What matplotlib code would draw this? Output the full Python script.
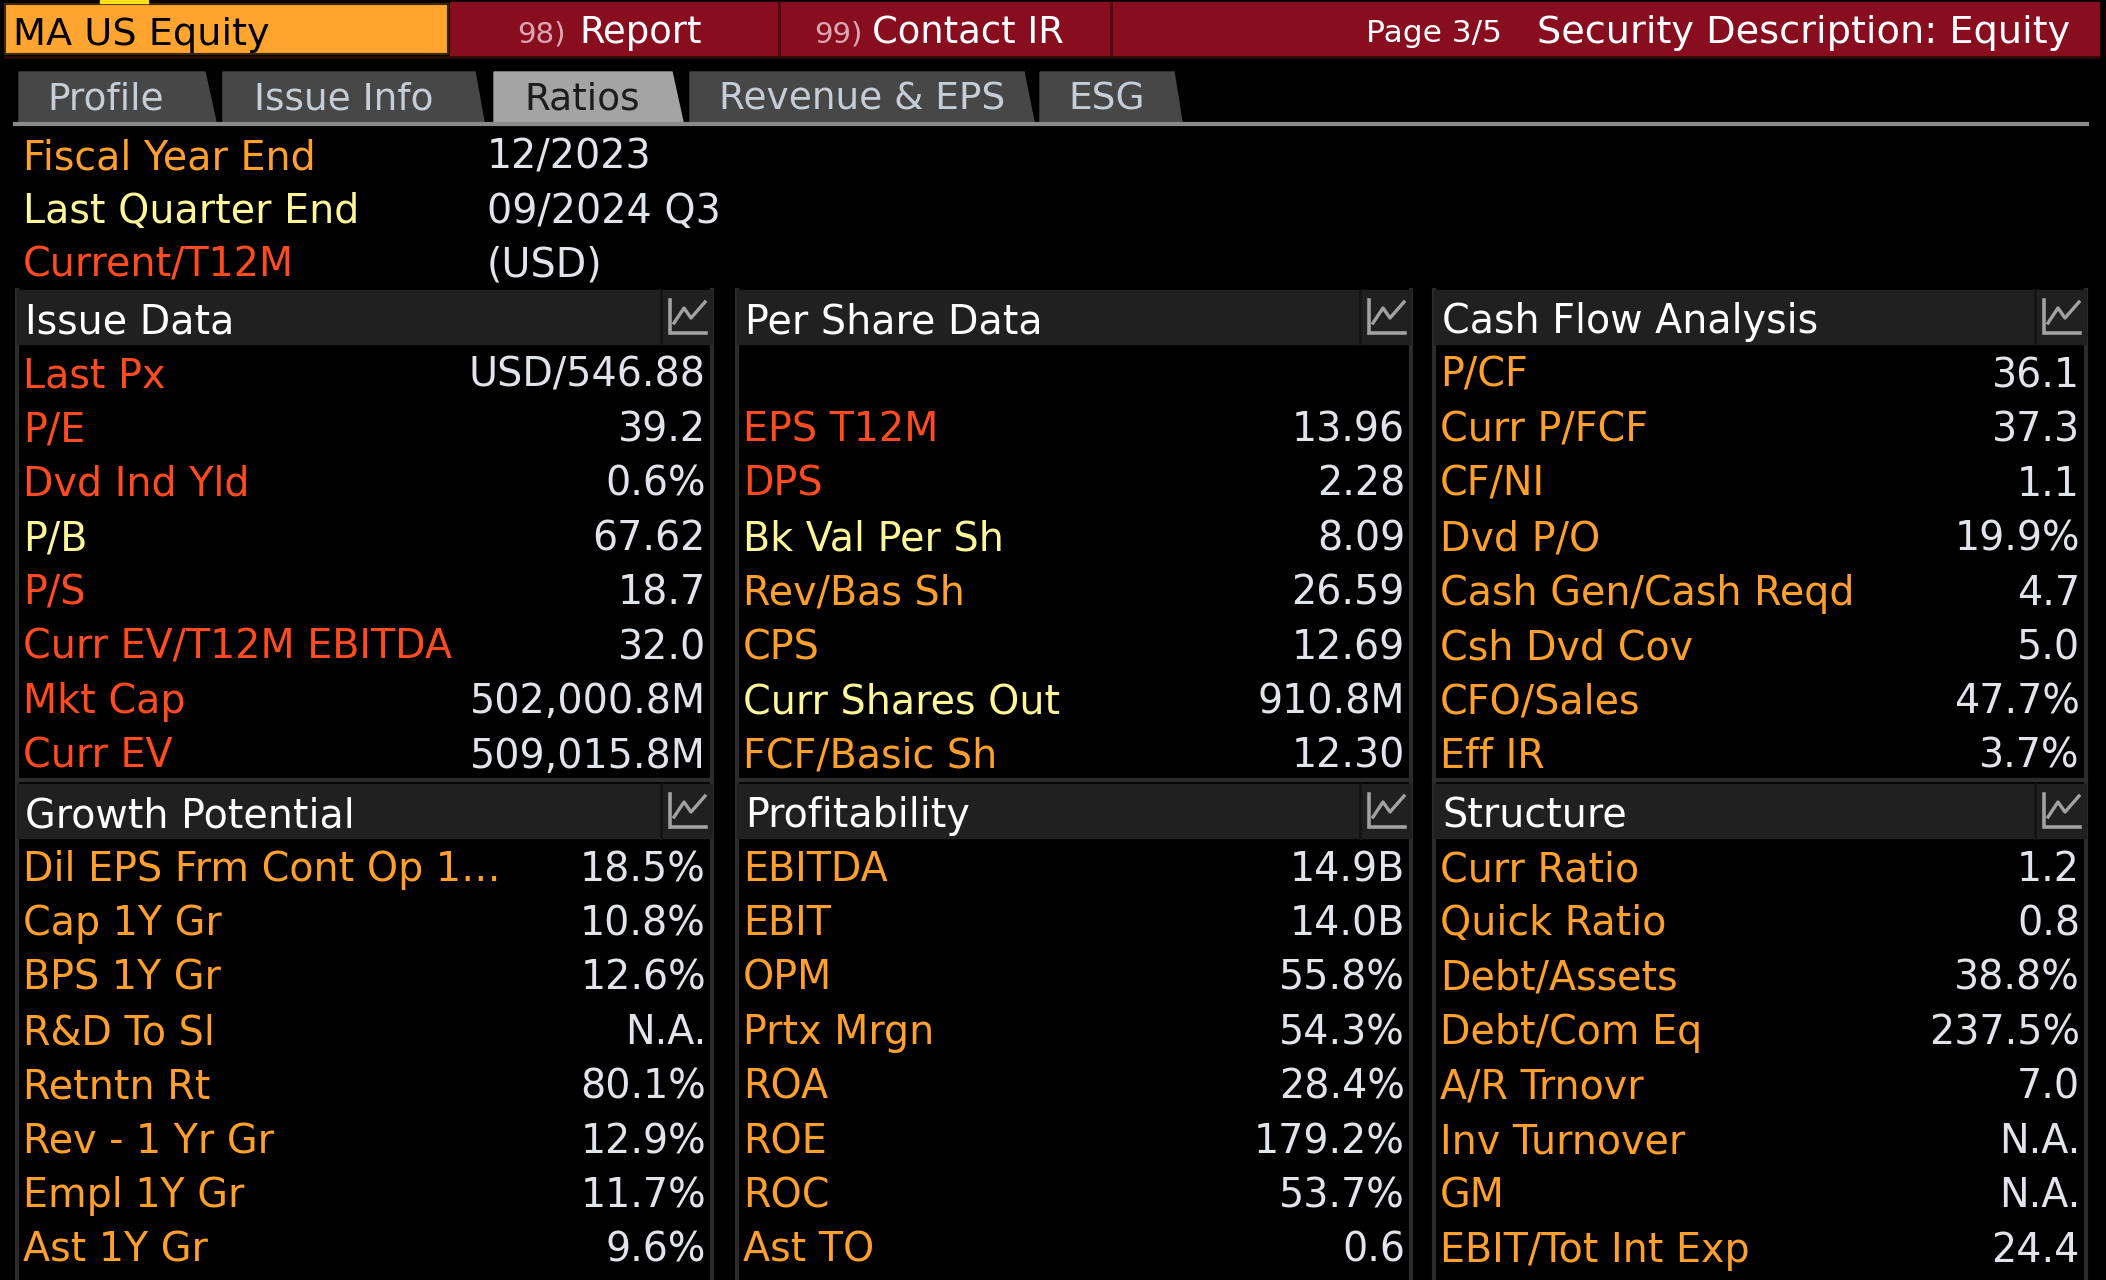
import matplotlib.pyplot as plt
from matplotlib.patches import Rectangle, Polygon

# ---- data ----
ticker = "MA US Equity"
menu_items = [("98)", "Report"), ("99)", "Contact IR")]
page_text = "Page 3/5"
title_text = "Security Description: Equity"
tabs = ["Profile", "Issue Info", "Ratios", "Revenue & EPS", "ESG"]
active_tab = "Ratios"

info_labels = ["Fiscal Year End", "Last Quarter End", "Current/T12M"]
info_values = ["12/2023", "09/2024 Q3", "(USD)"]
info_colors = ["o", "y", "r"]

issue_labels = ["Last Px", "P/E", "Dvd Ind Yld", "P/B", "P/S",
                "Curr EV/T12M EBITDA", "Mkt Cap", "Curr EV"]
issue_values = ["USD/546.88", "39.2", "0.6%", "67.62", "18.7",
                "32.0", "502,000.8M", "509,015.8M"]
issue_colors = ["r", "r", "r", "y", "r", "r", "r", "r"]

share_labels = ["", "EPS T12M", "DPS", "Bk Val Per Sh", "Rev/Bas Sh",
                "CPS", "Curr Shares Out", "FCF/Basic Sh"]
share_values = ["", "13.96", "2.28", "8.09", "26.59", "12.69", "910.8M", "12.30"]
share_colors = ["o", "r", "r", "y", "o", "o", "y", "o"]

cash_labels = ["P/CF", "Curr P/FCF", "CF/NI", "Dvd P/O", "Cash Gen/Cash Reqd",
               "Csh Dvd Cov", "CFO/Sales", "Eff IR"]
cash_values = ["36.1", "37.3", "1.1", "19.9%", "4.7", "5.0", "47.7%", "3.7%"]

growth_labels = ["Dil EPS Frm Cont Op 1\u2026", "Cap 1Y Gr", "BPS 1Y Gr", "R&D To Sl",
                 "Retntn Rt", "Rev - 1 Yr Gr", "Empl 1Y Gr", "Ast 1Y Gr"]
growth_values = ["18.5%", "10.8%", "12.6%", "N.A.", "80.1%", "12.9%", "11.7%", "9.6%"]

profit_labels = ["EBITDA", "EBIT", "OPM", "Prtx Mrgn", "ROA", "ROE", "ROC", "Ast TO"]
profit_values = ["14.9B", "14.0B", "55.8%", "54.3%", "28.4%", "179.2%", "53.7%", "0.6"]

struct_labels = ["Curr Ratio", "Quick Ratio", "Debt/Assets", "Debt/Com Eq",
                 "A/R Trnovr", "Inv Turnover", "GM", "EBIT/Tot Int Exp"]
struct_values = ["1.2", "0.8", "38.8%", "237.5%", "7.0", "N.A.", "N.A.", "24.4"]

# ---- styles ----
C = {"r": "#ff4b1f", "o": "#ffa02c", "y": "#fdf79a"}
VAL = "#e1e5ea"
W, H = 2106, 1280
FS = 28.5

fig = plt.figure(figsize=(W / 100, H / 100), dpi=100, facecolor="black")
ax = fig.add_axes([0, 0, 1, 1])
ax.set_xlim(0, W)
ax.set_ylim(H, 0)
ax.axis("off")
ax.set_facecolor("black")

# top bar
ax.add_patch(Rectangle((450, 2), 1649, 54, color="#880e1f", zorder=1))
ax.add_patch(Rectangle((5, 4), 443, 50, facecolor="#ffa42e", edgecolor="#3a2600", lw=1.5, zorder=2))
ax.add_patch(Rectangle((100, 0), 48, 3, color="#ffe21a", zorder=2))
for xd in (779, 1111):
    ax.plot([xd, xd], [2, 56], color="#4a0810", lw=2, zorder=2)
ax.plot([5, 2099], [57, 57], color="#2a0a0a", lw=2)
ax.text(13, 45, ticker, color="black", fontsize=27.5, va="baseline", zorder=3)
menu_x = [(566, 579), (862, 872)]
for (num, name), (xn, xt) in zip(menu_items, menu_x):
    ax.text(xn, 43, num, color="#dba7b0", fontsize=21, ha="right", va="baseline", zorder=3)
    ax.text(xt, 43, name, color="white", fontsize=26.6, va="baseline", zorder=3)
ax.text(1502, 42, page_text, color="white", fontsize=22.5, ha="right", va="baseline", zorder=3)
ax.text(2070, 43, title_text, color="white", fontsize=27.5, ha="right", va="baseline", zorder=3)

# tabs
tab_geo = [(19, 205, 216), (223, 475, 484), (494, 672, 683), (690, 1024, 1034), (1040, 1174, 1182)]
tab_tx = [47, 254, 524, 719, 1068]
for name, (x0, xt, xb), tx in zip(tabs, tab_geo, tab_tx):
    on = name == active_tab
    ax.add_patch(Polygon([(x0, 122), (x0, 72), (xt, 72), (xb, 122)], closed=True,
                         color="#a4a4a4" if on else "#474747", zorder=1))
    ax.text(tx, 110, name, color="#1c1c1c" if on else "#c6cdd4", fontsize=27,
            va="baseline", zorder=3)
ax.plot([15, 2087], [124, 124], color="#8a8a8a", lw=3)

# fiscal info
for i, (lab, val, c) in enumerate(zip(info_labels, info_values, info_colors)):
    yb = 169 + 54 * i
    ax.text(23, yb, lab, color=C[c], fontsize=FS, va="baseline")
    ax.text(487, yb, val, color=VAL, fontsize=FS, va="baseline")

# panels
cols = [(17, 712), (737, 1411), (1434, 2086)]
panels = [
    ("Issue Data", issue_labels, issue_values, issue_colors, 0, 290),
    ("Per Share Data", share_labels, share_values, share_colors, 1, 290),
    ("Cash Flow Analysis", cash_labels, cash_values, ["o"] * len(cash_labels), 2, 290),
    ("Growth Potential", growth_labels, growth_values, ["o"] * len(growth_labels), 0, 784),
    ("Profitability", profit_labels, profit_values, ["o"] * len(profit_labels), 1, 784),
    ("Structure", struct_labels, struct_values, ["o"] * len(struct_labels), 2, 784),
]


def chart_icon(x0, top):
    ax.plot([x0 + 9, x0 + 9, x0 + 45], [top + 10, top + 43, top + 43],
            color="#a2a2a2", lw=2.6, solid_joinstyle="miter", zorder=4)
    ax.plot([x0 + 13, x0 + 23, x0 + 30, x0 + 44], [top + 33, top + 18, top + 28, top + 12],
            color="#a2a2a2", lw=2.4, zorder=4)


for title, labs, vals, cols_c, ci, top in panels:
    left, right = cols[ci]
    ax.add_patch(Rectangle((left, top), right - left, 54, color="#202020", zorder=1))
    ax.plot([right - 51, right - 51], [top, top + 54], color="#141414", lw=2, zorder=2)
    chart_icon(right - 51, top)
    ax.text(left + 8, top + 43, title, color="white", fontsize=FS, va="baseline", zorder=3)
    for j, (lab, val, c) in enumerate(zip(labs, vals, cols_c)):
        yb = top + 97 + 54.4 * j
        ax.text(left + 6, yb, lab, color=C[c], fontsize=FS, va="baseline")
        ax.text(right - 6, yb, val, color=VAL, fontsize=FS, ha="right", va="baseline")
    bottom = 780 if top < 700 else H
    for xv in (left, right):
        ax.plot([xv, xv], [top, bottom], color="#2b2b2b", lw=3, zorder=0)
    if top < 700:
        ax.plot([left, right], [bottom, bottom], color="#2b2b2b", lw=3, zorder=0)

fig.savefig("out.png", dpi=100, facecolor="black")
